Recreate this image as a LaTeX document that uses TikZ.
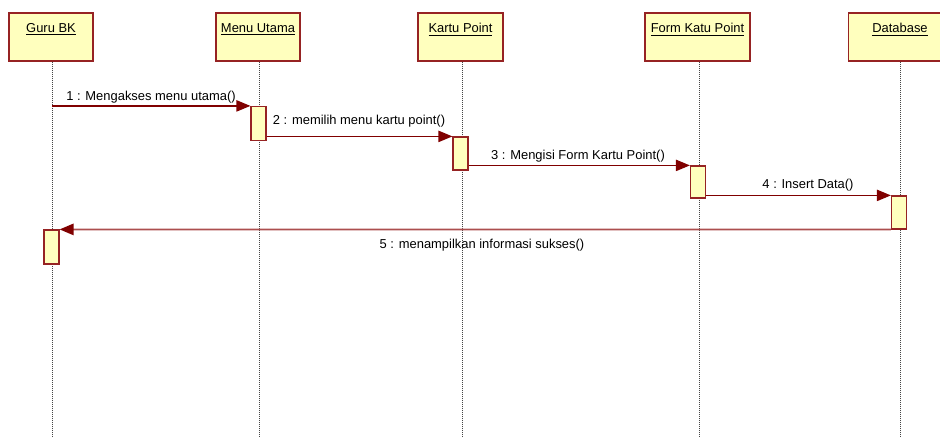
\documentclass[tikz,border=0pt]{standalone}
\usepackage{fontspec}
\setmainfont{Liberation Sans}
\usetikzlibrary{arrows.meta}
\definecolor{objfill}{RGB}{255,255,190}
\definecolor{objedge}{RGB}{150,35,35}
\definecolor{msgcol}{RGB}{128,0,0}
\definecolor{retcol}{RGB}{172,78,78}
\definecolor{lifecol}{RGB}{70,70,70}

\begin{document}
\begin{tikzpicture}[x=0.75pt,y=-0.75pt,
  font=\fontsize{9.7}{11}\selectfont,
  objbox/.style={draw=objedge, fill=objfill, line width=0.9pt,
    minimum height=36pt, inner sep=0pt},
  objtitle/.style={inner sep=0pt, anchor=center},
  actbar/.style={draw=objedge, fill=objfill, line width=0.9pt,
    minimum width=11.25pt, inner sep=0pt},
  lifeline/.style={draw=lifecol, line width=0.7pt, dash pattern=on 0.75pt off 0.75pt},
  msg/.style={draw=msgcol, line width=0.9pt, -{Triangle[length=10.5pt,width=8.5pt]}},
  ret/.style={draw=retcol, line width=1.3pt, -{Triangle[length=10.5pt,width=8.5pt,fill=msgcol,color=msgcol]}},
  msglabel/.style={inner sep=0pt, anchor=center}]

\useasboundingbox (0,0) rectangle (940,437);
\clip (0,0) rectangle (940,437);

% objects
\node[objbox, minimum width=63pt]  (guru)  at (51,37)  {};
\node[objbox, minimum width=63pt]  (menu)  at (258,37) {};
\node[objbox, minimum width=63.75pt] (kartu) at (460.5,37) {};
\node[objbox, minimum width=78.75pt] (form)  at (697.5,37) {};
\node[objbox, minimum width=90pt, anchor=west]  (db) at (848,37) {};

\node[objtitle] (tguru)  at (51,29.5)  {\underline{Guru BK}};
\node[objtitle] (tmenu)  at (258,29.5) {\underline{Menu Utama}};
\node[objtitle] (tkartu) at (460.5,29.5) {\underline{Kartu Point}};
\node[objtitle] (tform)  at (697.5,29.5) {\underline{Form Katu Point}};
\node[objtitle] (tdb)    at (900,29.5) {\underline{Database}};

% lifeline ends
\coordinate (eguru)  at (52,437);
\coordinate (emenu)  at (259,437);
\coordinate (ekartu) at (462,437);
\coordinate (eform)  at (699,437);
\coordinate (edb)    at (900,437);

\draw[lifeline] (guru.south -| eguru)  -- (eguru);
\draw[lifeline] (menu.south -| emenu)  -- (emenu);
\draw[lifeline] (kartu.south -| ekartu) -- (ekartu);
\draw[lifeline] (form.south -| eform)  -- (eform);
\draw[lifeline] (db.south -| edb)      -- (edb);

% activation bars
\node[actbar, minimum height=25.5pt] (amenu)  at (258.5,123.5) {};
\node[actbar, minimum height=24.75pt] (akartu) at (460.5,153.5) {};
\node[actbar, minimum height=24pt]    (aform)  at (698,182) {};
\node[actbar, minimum height=24.75pt] (adb)    at (899,212.5) {};
\node[actbar, minimum height=25.5pt]  (aguru)  at (51.5,247) {};

% messages
\draw[msg] (eguru |- amenu.north west) -- (amenu.north west);
\draw[msg] (amenu.east |- akartu.north west) -- (akartu.north west);
\draw[msg] (akartu.east |- aform.north west) -- (aform.north west);
\draw[msg] (aform.east |- adb.north west) -- (adb.north west);
\draw[ret] (adb.south west) -- (aguru.north east);

% message labels
\node[msglabel] (l1) at (151,97)  {1 : Mengakses menu utama()};
\node[msglabel] (l2) at (359,121) {2 : memilih menu kartu point()};
\node[msglabel] (l3) at (578,156) {3 : Mengisi Form Kartu Point()};
\node[msglabel] (l4) at (808,185) {4 : Insert Data()};
\node[msglabel] (l5) at (482,245) {5 : menampilkan informasi sukses()};
\end{tikzpicture}
\end{document}
